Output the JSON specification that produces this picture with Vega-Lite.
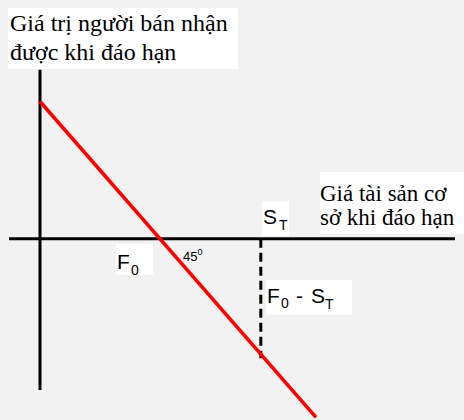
{
  "$schema": "https://vega.github.io/schema/vega-lite/v6.json",
  "width": 464,
  "height": 420,
  "autosize": {"type": "fit", "contains": "padding"},
  "padding": 0,
  "background": "#f2f2f2",
  "config": {"view": {"stroke": null}},
  "datasets": {
    "segments": [
      {"kind": "axis", "x1": -25.8, "y1": 0, "x2": 345.8, "y2": 0},
      {"kind": "axis", "x1": 0, "y1": 123.2, "x2": 0, "y2": -110.1},
      {"kind": "payoff", "x1": 0, "y1": 100, "x2": 230, "y2": -130},
      {"kind": "gap", "x1": 184, "y1": 0, "x2": 184, "y2": -87}
    ],
    "boxes": [
      {"x1": -26.7, "x2": 165, "y1": 168.1, "y2": 123.9},
      {"x1": 233.3, "x2": 353.3, "y1": 48.6, "y2": 3.6},
      {"x1": 185, "x2": 207.5, "y1": 27.5, "y2": 2.2},
      {"x1": 63.3, "x2": 94.2, "y1": -3.6, "y2": -26.1},
      {"x1": 188.3, "x2": 260, "y1": -29.7, "y2": -55.1}
    ],
    "labels": [
      {"kind": "title", "text": "Giá trị người bán nhận", "x": -25, "y": 151.4},
      {"kind": "title", "text": "được khi đáo hạn", "x": -25, "y": 130.4},
      {"kind": "title2", "text": "Giá tài sản cơ", "x": 233.3, "y": 27.5},
      {"kind": "title2", "text": "sở khi đáo hạn", "x": 233.3, "y": 10.1},
      {"kind": "main", "text": "S", "x": 185.8, "y": 10.9},
      {"kind": "main", "text": "F", "x": 64.2, "y": -21.7},
      {"kind": "main", "text": "F", "x": 189.2, "y": -46.4},
      {"kind": "main", "text": "-", "x": 213.3, "y": -46.4},
      {"kind": "main", "text": "S", "x": 225.8, "y": -46.4},
      {"kind": "sub", "text": "T", "x": 199.2, "y": 6.5},
      {"kind": "sub", "text": "0", "x": 75.8, "y": -26.1},
      {"kind": "sub", "text": "0", "x": 200.8, "y": -50.7},
      {"kind": "sub", "text": "T", "x": 237.5, "y": -51.4},
      {"kind": "angle", "text": "45", "x": 119.2, "y": -15.9},
      {"kind": "sup", "text": "0", "x": 131.3, "y": -11.6}
    ]
  },
  "layer": [
    {
      "data": {"name": "boxes"},
      "mark": {"type": "rect", "fill": "white", "stroke": null},
      "encoding": {
        "x": {"field": "x1", "type": "quantitative", "scale": {"domain": [-33.333, 353.333], "nice": false, "zero": false}, "axis": null},
        "x2": {"field": "x2"},
        "y": {"field": "y1", "type": "quantitative", "scale": {"domain": [-130.435, 173.913], "nice": false, "zero": false}, "axis": null},
        "y2": {"field": "y2"}
      }
    },
    {
      "data": {"name": "segments"},
      "transform": [{"filter": "datum.kind === 'axis'"}],
      "mark": {"type": "rule", "color": "black", "strokeWidth": 3},
      "encoding": {
        "x": {"field": "x1", "type": "quantitative"},
        "x2": {"field": "x2"},
        "y": {"field": "y1", "type": "quantitative"},
        "y2": {"field": "y2"}
      }
    },
    {
      "data": {"name": "segments"},
      "transform": [{"filter": "datum.kind === 'gap'"}],
      "mark": {"type": "rule", "color": "black", "strokeWidth": 3, "strokeDash": [9, 5]},
      "encoding": {
        "x": {"field": "x1", "type": "quantitative"},
        "x2": {"field": "x2"},
        "y": {"field": "y1", "type": "quantitative"},
        "y2": {"field": "y2"}
      }
    },
    {
      "data": {"name": "segments"},
      "transform": [{"filter": "datum.kind === 'payoff'"}],
      "mark": {"type": "rule", "color": "#ff0000", "strokeWidth": 3.5},
      "encoding": {
        "x": {"field": "x1", "type": "quantitative"},
        "x2": {"field": "x2"},
        "y": {"field": "y1", "type": "quantitative"},
        "y2": {"field": "y2"}
      }
    },
    {
      "data": {"name": "labels"},
      "transform": [{"filter": "datum.kind === 'title'"}],
      "mark": {"type": "text", "align": "left", "baseline": "alphabetic", "font": "Liberation Serif", "fontSize": 24, "color": "black"},
      "encoding": {
        "x": {"field": "x", "type": "quantitative"},
        "y": {"field": "y", "type": "quantitative"},
        "text": {"field": "text"}
      }
    },
    {
      "data": {"name": "labels"},
      "transform": [{"filter": "datum.kind === 'title2'"}],
      "mark": {"type": "text", "align": "left", "baseline": "alphabetic", "font": "Liberation Serif", "fontSize": 23, "color": "black"},
      "encoding": {
        "x": {"field": "x", "type": "quantitative"},
        "y": {"field": "y", "type": "quantitative"},
        "text": {"field": "text"}
      }
    },
    {
      "data": {"name": "labels"},
      "transform": [{"filter": "datum.kind === 'main'"}],
      "mark": {"type": "text", "align": "left", "baseline": "alphabetic", "font": "Liberation Sans", "fontSize": 21, "color": "black"},
      "encoding": {
        "x": {"field": "x", "type": "quantitative"},
        "y": {"field": "y", "type": "quantitative"},
        "text": {"field": "text"}
      }
    },
    {
      "data": {"name": "labels"},
      "transform": [{"filter": "datum.kind === 'sub'"}],
      "mark": {"type": "text", "align": "left", "baseline": "alphabetic", "font": "Liberation Sans", "fontSize": 14, "color": "black"},
      "encoding": {
        "x": {"field": "x", "type": "quantitative"},
        "y": {"field": "y", "type": "quantitative"},
        "text": {"field": "text"}
      }
    },
    {
      "data": {"name": "labels"},
      "transform": [{"filter": "datum.kind === 'angle'"}],
      "mark": {"type": "text", "align": "left", "baseline": "alphabetic", "font": "Liberation Sans", "fontSize": 13, "color": "black"},
      "encoding": {
        "x": {"field": "x", "type": "quantitative"},
        "y": {"field": "y", "type": "quantitative"},
        "text": {"field": "text"}
      }
    },
    {
      "data": {"name": "labels"},
      "transform": [{"filter": "datum.kind === 'sup'"}],
      "mark": {"type": "text", "align": "left", "baseline": "alphabetic", "font": "Liberation Sans", "fontSize": 9, "color": "black"},
      "encoding": {
        "x": {"field": "x", "type": "quantitative"},
        "y": {"field": "y", "type": "quantitative"},
        "text": {"field": "text"}
      }
    }
  ]
}
